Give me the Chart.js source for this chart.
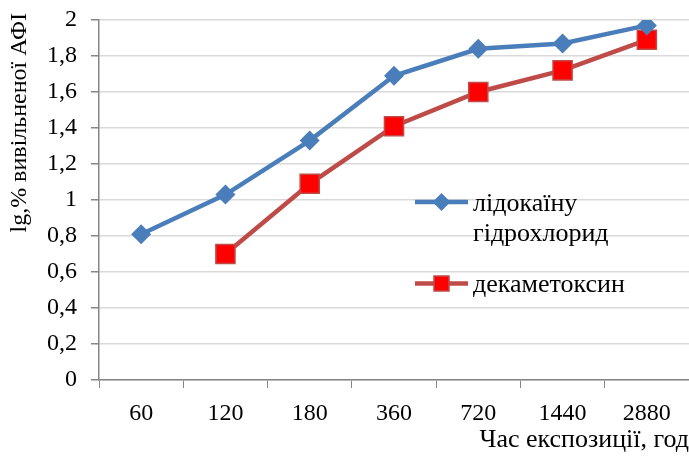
<!DOCTYPE html>
<html>
<head>
<meta charset="utf-8">
<script src="https://cdn.jsdelivr.net/npm/chart.js@4"></script>
<style>
  html, body { margin: 0; padding: 0; background: #fff; }
  #wrap { width: 689px; height: 459px; }
</style>
</head>
<body>
<div id="wrap"><canvas id="chartLine" width="689" height="459"></canvas></div>
<script>
// Data
const categories = ['60', '120', '180', '360', '720', '1440', '2880'];
const lidocaine = [0.81, 1.03, 1.33, 1.69, 1.84, 1.87, 1.97];
const decamethoxin = [null, 0.70, 1.09, 1.41, 1.60, 1.72, 1.89];
const seriesNames = ['лідокаїну гідрохлорид', 'декаметоксин'];
const yMin = 0, yMax = 2, yStep = 0.2;

const FONT = "'Liberation Serif', 'Times New Roman', serif";
const BLUE = '#4A7EBB';
const RED_LINE = '#BE4B48';
const RED_FILL = '#FF0000';

// y axis title and the legend, drawn inside the plot like in the reference
const extras = {
    id: 'extras',
    afterDraw(chart) {
        const c = chart.ctx;
        c.save();
        c.fillStyle = '#000';
        c.font = '24px ' + FONT;

        // y title
        c.save();
        c.translate(20, 13);
        c.rotate(-Math.PI / 2);
        c.textAlign = 'right';
        c.textBaseline = 'middle';
        c.fillText('lg,% вивільненої АФІ', 0, 0);
        c.restore();

        // legend: lidocaine
        c.lineWidth = 4.5;
        c.strokeStyle = BLUE;
        c.beginPath();
        c.moveTo(415, 202);
        c.lineTo(468, 202);
        c.stroke();
        c.fillStyle = BLUE;
        c.beginPath();
        c.moveTo(441.5, 193);
        c.lineTo(450.5, 202);
        c.lineTo(441.5, 211);
        c.lineTo(432.5, 202);
        c.closePath();
        c.fill();

        // legend: decamethoxin
        c.strokeStyle = RED_LINE;
        c.beginPath();
        c.moveTo(415, 283.5);
        c.lineTo(468, 283.5);
        c.stroke();
        c.fillStyle = RED_FILL;
        c.fillRect(434, 276, 15, 15);
        c.lineWidth = 1.5;
        c.strokeRect(434, 276, 15, 15);

        c.fillStyle = '#000';
        c.font = '26px ' + FONT;
        c.textAlign = 'left';
        c.textBaseline = 'alphabetic';
        c.fillText('лідокаїну', 473, 211);
        c.fillText('гідрохлорид', 473, 241);
        c.fillText(seriesNames[1], 473, 292);
        c.restore();
    }
};

new Chart(document.getElementById('chartLine').getContext('2d'), {
    type: 'line',
    data: {
        labels: categories,
        datasets: [{
            label: seriesNames[0],
            data: lidocaine,
            borderColor: BLUE,
            backgroundColor: BLUE,
            borderWidth: 4.5,
            pointStyle: 'rectRot',
            pointRadius: 10,
            pointBorderWidth: 0,
            pointBackgroundColor: BLUE,
            tension: 0
        }, {
            label: seriesNames[1],
            data: decamethoxin,
            borderColor: RED_LINE,
            backgroundColor: RED_FILL,
            borderWidth: 4.5,
            pointStyle: 'rect',
            pointRadius: 13.5,
            pointBorderWidth: 1.5,
            pointBorderColor: RED_LINE,
            pointBackgroundColor: RED_FILL,
            tension: 0
        }]
    },
    options: {
        responsive: false,
        animation: false,
        layout: {
            autoPadding: false,
            padding: { top: 20, right: 0, bottom: 0, left: 0 }
        },
        plugins: {
            legend: { display: false },
            tooltip: { enabled: false }
        },
        scales: {
            x: {
                offset: true,
                afterFit: function(scale) {
                    scale.height = 79;
                    scale.paddingLeft = 0;
                    scale.paddingRight = 0;
                },
                grid: {
                    offset: true,
                    drawOnChartArea: false,
                    color: '#868686',
                    tickLength: 8
                },
                border: { color: '#868686', width: 1.5 },
                ticks: {
                    color: '#000',
                    padding: 11,
                    maxRotation: 0,
                    font: { family: FONT, size: 24 }
                },
                title: {
                    display: true,
                    text: 'Час експозиції, год',
                    align: 'end',
                    color: '#000',
                    padding: { top: 0, bottom: 3 },
                    font: { family: FONT, size: 26 }
                }
            },
            y: {
                min: yMin,
                max: yMax,
                afterFit: function(scale) {
                    scale.width = 99;
                    scale.paddingTop = 0;
                    scale.paddingBottom = 0;
                },
                grid: {
                    color: '#D9D9D9',
                    lineWidth: 1.5,
                    tickColor: '#868686',
                    tickLength: 8
                },
                border: { color: '#868686', width: 1.5 },
                ticks: {
                    stepSize: yStep,
                    color: '#000',
                    padding: 14,
                    font: { family: FONT, size: 24 },
                    callback: function(value) {
                        return Number(value.toFixed(1)).toString().replace('.', ',');
                    }
                }
            }
        }
    },
    plugins: [extras]
});
</script>
</body>
</html>
